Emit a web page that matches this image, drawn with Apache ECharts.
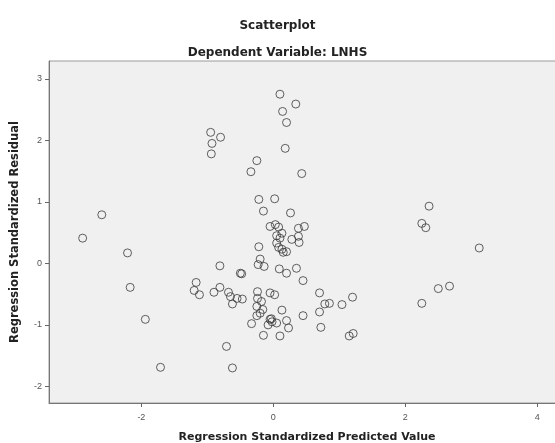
<!DOCTYPE html>
<html>
<head>
<meta charset="utf-8">
<script src="https://cdn.jsdelivr.net/npm/echarts@6/dist/echarts.min.js"></script>
<style>html,body{margin:0;padding:0;background:#fff}#c{width:555px;height:443px}</style>
</head>
<body>
<div id="c"></div>
<script>
// Regression Standardized Predicted Value
var predicted = [0.10,0.34,0.14,0.20,0.18,-0.95,-0.80,-0.93,-0.94,-0.25,-0.34,0.43,-0.22,0.02,-0.15,0.26,-2.60,-2.89,-2.21,-2.17,-1.94,-1.71,-0.71,-0.62,-0.81,-0.50,-0.48,-1.17,-1.20,-1.12,-0.90,-0.81,-0.68,-0.65,-0.55,-0.47,-0.62,-0.22,-0.20,-0.23,-0.14,0.09,0.20,0.35,0.45,-0.24,-0.24,-0.18,-0.05,0.02,-0.25,-0.16,-0.20,-0.25,-0.05,-0.02,-0.08,0.05,0.13,0.20,0.23,-0.33,-0.15,0.10,-0.05,0.03,0.08,0.13,0.10,0.38,0.47,0.28,0.38,0.39,0.05,0.13,0.20,0.15,0.70,0.78,0.85,1.04,1.20,0.70,0.45,0.72,1.15,1.21,2.36,2.25,2.31,3.12,2.25,2.50,2.67,0.05,-0.03,0.08];
// Regression Standardized Residual
var residual = [2.75,2.59,2.47,2.29,1.87,2.13,2.05,1.95,1.78,1.67,1.49,1.46,1.04,1.05,0.85,0.82,0.79,0.41,0.17,-0.39,-0.91,-1.69,-1.35,-1.70,-0.04,-0.16,-0.17,-0.31,-0.44,-0.51,-0.47,-0.39,-0.47,-0.54,-0.57,-0.58,-0.66,0.27,0.07,-0.02,-0.05,-0.09,-0.16,-0.08,-0.28,-0.46,-0.57,-0.62,-0.48,-0.51,-0.70,-0.75,-0.81,-0.85,-0.91,-0.95,-1.00,-0.97,-0.76,-0.93,-1.05,-0.98,-1.17,-1.18,0.60,0.63,0.59,0.49,0.41,0.57,0.60,0.39,0.44,0.34,0.33,0.23,0.19,0.18,-0.48,-0.66,-0.65,-0.67,-0.55,-0.79,-0.85,-1.04,-1.18,-1.14,0.93,0.65,0.58,0.25,-0.65,-0.41,-0.37,0.45,-0.90,0.26];
var xTicks = [-2, 0, 2, 4];
var yTicks = [-2, -1, 0, 1, 2, 3];

var points = predicted.map(function (v, i) { return [v, residual[i]]; });
var chart = echarts.init(document.getElementById('c'), null, {renderer: 'canvas'});
var font = 'Liberation Sans, Arial, sans-serif';
var boldFont = 'DejaVu Sans, Liberation Sans, sans-serif';
chart.setOption({
  animation: false,
  backgroundColor: '#ffffff',
  title: [
    {text: 'Scatterplot', left: 'center', top: 15,
     textStyle: {fontFamily: boldFont, fontSize: 12, fontWeight: 'bold', color: '#222'}},
    {text: 'Dependent Variable: LNHS', left: 'center', top: 42,
     textStyle: {fontFamily: boldFont, fontSize: 12, fontWeight: 'bold', color: '#222'}}
  ],
  grid: {left: 49, top: 61, right: -10, bottom: 40, show: true, outerBoundsMode: 'none', containLabel: false,
         backgroundColor: '#f0f0f0', borderColor: '#9a9a9a', borderWidth: 1},
  xAxis: {
    type: 'value', min: -3.40, max: 4.42,
    name: 'Regression Standardized Predicted Value', nameLocation: 'middle', nameGap: 29,
    nameTextStyle: {fontFamily: boldFont, fontSize: 11, fontWeight: 'bold', color: '#222'},
    axisLine: {show: true, onZero: false, lineStyle: {color: '#777'}},
    axisTick: {show: true, length: 4, customValues: xTicks, lineStyle: {color: '#666'}},
    axisLabel: {customValues: xTicks, margin: 10, fontFamily: font, fontSize: 9, color: '#555'},
    splitLine: {show: false}
  },
  yAxis: {
    type: 'value', min: -2.27, max: 3.29,
    name: 'Regression Standardized Residual', nameLocation: 'middle', nameGap: 28,
    nameTextStyle: {fontFamily: boldFont, fontSize: 11.5, fontWeight: 'bold', color: '#222'},
    axisLine: {show: true, onZero: false, lineStyle: {color: '#777'}},
    axisTick: {show: true, length: 4, customValues: yTicks, lineStyle: {color: '#666'}},
    axisLabel: {customValues: yTicks, margin: 7, fontFamily: font, fontSize: 9, color: '#555'},
    splitLine: {show: false}
  },
  series: [{
    type: 'scatter',
    data: points,
    symbol: 'circle',
    symbolSize: 8,
    itemStyle: {color: 'rgba(0,0,0,0)', borderColor: '#3a3a3a', borderWidth: 1}
  }]
});
</script>
</body>
</html>
